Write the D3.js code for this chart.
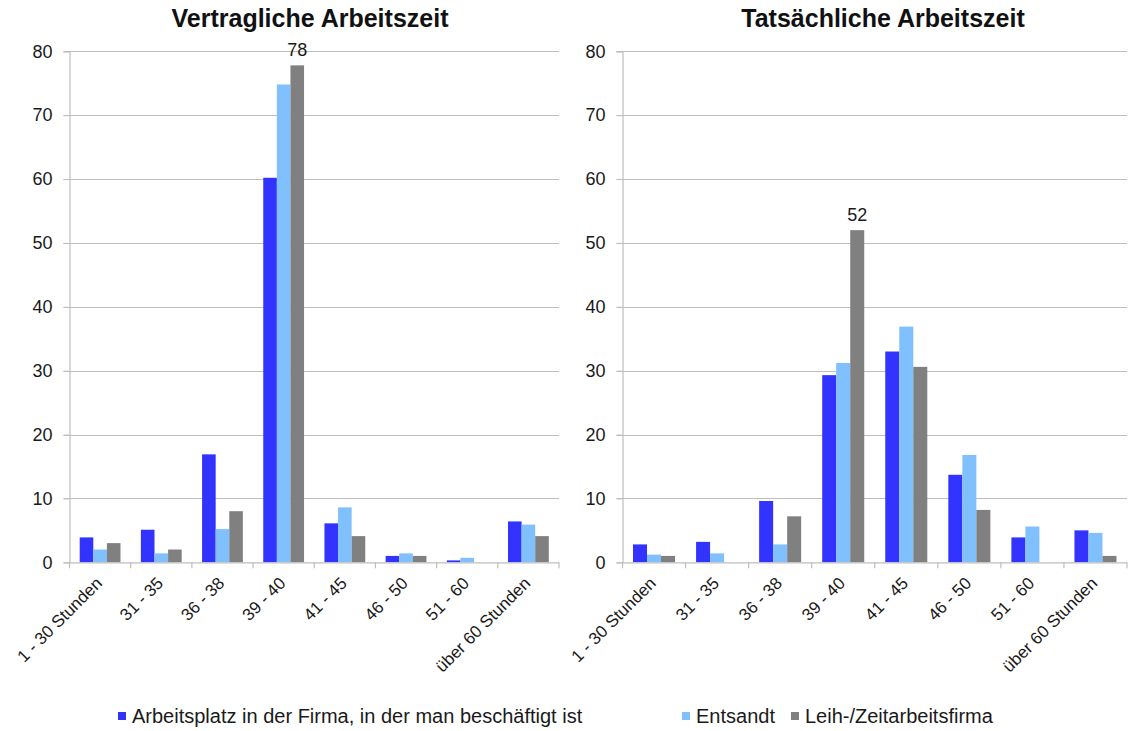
<!DOCTYPE html>
<html><head><meta charset="utf-8">
<script src="https://cdn.jsdelivr.net/npm/d3@7"></script>
<style>body{margin:0;background:#fff;}svg{display:block;font-family:"Liberation Sans",Arial,sans-serif;}</style>
</head><body>
<svg id="c" width="1135" height="731"></svg>
<script>
const categories = ["1 - 30 Stunden","31 - 35","36 - 38","39 - 40","41 - 45","46 - 50","51 - 60","über 60 Stunden"];
const seriesNames = ["Arbeitsplatz in der Firma, in der man beschäftigt ist","Entsandt","Leih-/Zeitarbeitsfirma"];
const colors = ["#3333FF","#80C0FF","#808080"];
const yTicks = [0,10,20,30,40,50,60,70,80];
const titles = ["Vertragliche Arbeitszeit","Tatsächliche Arbeitszeit"];
// Vertragliche Arbeitszeit
const vertFirma    = [3.9, 5.1, 16.9, 60.2, 6.1, 1.0, 0.3, 6.4];
const vertEntsandt = [2.0, 1.4, 5.2, 74.8, 8.6, 1.4, 0.7, 5.9];
const vertLeih     = [3.0, 2.0, 8.0, 77.8, 4.1, 1.0, 0, 4.1];
// Tatsächliche Arbeitszeit
const tatFirma     = [2.8, 3.2, 9.6, 29.3, 33.0, 13.7, 3.9, 5.0];
const tatEntsandt  = [1.2, 1.4, 2.8, 31.2, 36.9, 16.8, 5.6, 4.6];
const tatLeih      = [1.0, 0, 7.2, 52.0, 30.6, 8.2, 0, 1.0];
const labelsVert = [{cat:"39 - 40", series:2, text:"78"}];
const labelsTat  = [{cat:"39 - 40", series:2, text:"52"}];

const svg = d3.select("#c");
const panels = [
  {title:titles[0], data:[vertFirma,vertEntsandt,vertLeih], x0:69.5, x1:559, tx:310, labels:labelsVert},
  {title:titles[1], data:[tatFirma,tatEntsandt,tatLeih], x0:622.5, x1:1127, tx:883, labels:labelsTat}
];
const yTop = 51.3, yBot = 562.3;
const gridColor = "#BEBEBE";
const txtColor = "#1a1a1a";

panels.forEach(p => {
  const g = svg.append("g");
  const x = d3.scaleBand().domain(categories).range([p.x0, p.x1]).paddingInner(0).paddingOuter(0);
  const y = d3.scaleLinear().domain([0,80]).range([yBot, yTop]);
  const inner = d3.scaleBand().domain([0,1,2]).range([x.bandwidth()/6, x.bandwidth()*5/6]);

  // grid
  g.append("g").selectAll("line").data(yTicks.filter(t=>t>0)).join("line")
    .attr("x1", p.x0-6).attr("x2", p.x1)
    .attr("y1", d=>Math.round(y(d))+0.5).attr("y2", d=>Math.round(y(d))+0.5)
    .attr("stroke", gridColor).attr("stroke-width",1.2);

  // y axis
  const ya = g.append("g").attr("transform",`translate(${p.x0},0)`)
    .call(d3.axisLeft(y).tickValues(yTicks).tickSize(6).tickPadding(11));
  ya.select(".domain").attr("stroke", gridColor).attr("stroke-width",1.2);
  ya.selectAll(".tick line").attr("stroke", gridColor);
  ya.selectAll("text").attr("font-size",18).attr("fill",txtColor).attr("font-family","Liberation Sans, Arial, sans-serif");

  // bars
  p.data.forEach((vals, si) => {
    g.append("g").selectAll("rect").data(categories.map((c,i)=>({c, v:vals[i]}))).join("rect")
      .attr("x", d=>x(d.c)+inner(si)).attr("width", inner.bandwidth())
      .attr("y", d=>y(d.v)).attr("height", d=>y(0)-y(d.v))
      .attr("fill", colors[si]);
  });

  // x axis
  const xa = g.append("g").attr("transform",`translate(0,${yBot})`);
  xa.append("line").attr("x1",p.x0).attr("x2",p.x1).attr("y1",0.5).attr("y2",0.5).attr("stroke",gridColor).attr("stroke-width",1.2);
  const bounds = categories.map(c=>x(c)).concat([p.x1]);
  xa.selectAll("line.tk").data(bounds).join("line").attr("class","tk")
    .attr("x1",d=>d).attr("x2",d=>d).attr("y1",0).attr("y2",6).attr("stroke",gridColor).attr("stroke-width",1.2);
  xa.selectAll("text").data(categories).join("text")
    .attr("transform", d=>`translate(${x(d)+x.bandwidth()/2+3},${22}) rotate(-45)`)
    .attr("text-anchor","end").attr("font-size",17).attr("fill",txtColor)
    .text(d=>d);

  // data labels
  p.labels.forEach(l => {
    const i = categories.indexOf(l.cat);
    g.append("text").attr("x", x(l.cat)+inner(l.series)+inner.bandwidth()/2)
      .attr("y", y(p.data[l.series][i]) - 9)
      .attr("text-anchor","middle").attr("font-size",18).attr("fill",txtColor).text(l.text);
  });

  // title
  g.append("text").attr("x",p.tx).attr("y",27).attr("text-anchor","middle")
    .attr("font-size",25).attr("font-weight","bold").attr("fill","#111").text(p.title);
});

// legend
const legendX = [118, 682, 791];
const lg = svg.append("g");
seriesNames.forEach((s,i)=>{
  lg.append("rect").attr("x",legendX[i]).attr("y",712).attr("width",8).attr("height",8).attr("fill",colors[i]);
  lg.append("text").attr("x",legendX[i]+14).attr("y",723).attr("font-size",20).attr("fill",txtColor).text(s);
});
</script>
</body></html>
